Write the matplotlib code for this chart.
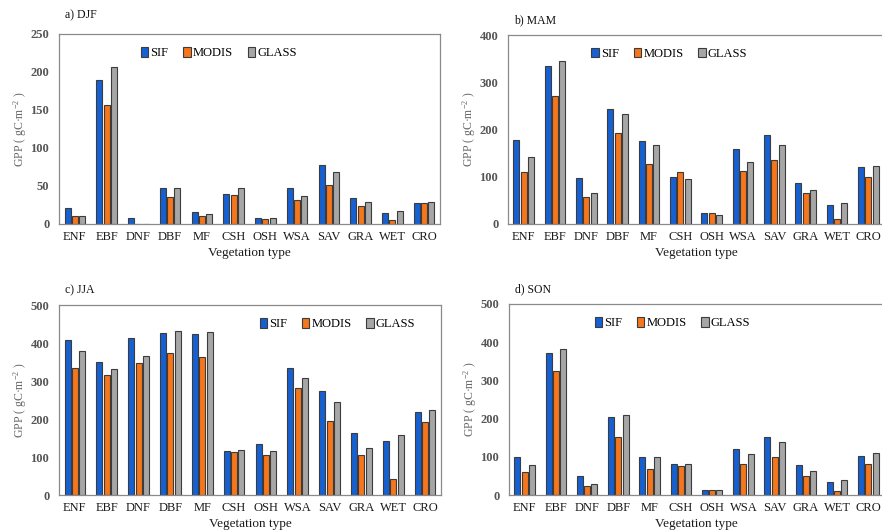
import numpy as np
import matplotlib
matplotlib.use("Agg")
import matplotlib.pyplot as plt

plt.rcParams['font.family'] = ['Liberation Serif', 'DejaVu Serif']
plt.rcParams['mathtext.fontset'] = 'custom'
plt.rcParams['mathtext.rm'] = 'Liberation Serif'
plt.rcParams['mathtext.it'] = 'Liberation Serif:italic'

veg_types = ["ENF", "EBF", "DNF", "DBF", "MF", "CSH", "OSH", "WSA", "SAV", "GRA", "WET", "CRO"]
series_names = ["SIF", "MODIS", "GLASS"]

# DJF
djf_sif = [21, 189, 7.5, 48, 16, 39.5, 7.5, 47, 78, 34.5, 14, 27.5]
djf_modis = [10.5, 157, 0, 35, 10.5, 38.5, 6, 31, 51, 24, 5, 27.5]
djf_glass = [11, 207, 0, 47, 13.5, 47, 7.5, 37.5, 68.5, 29, 17, 29]

# MAM
mam_sif = [178, 334, 97, 244, 175, 99, 22.5, 159, 189, 86, 40, 121]
mam_modis = [111, 271, 57, 192, 128, 111, 22.5, 113, 134.5, 65, 10.5, 99]
mam_glass = [141.5, 344, 66, 232, 168, 96, 20, 131, 168, 71, 44, 123]

# JJA
jja_sif = [409, 349.5, 412, 426, 423, 116, 133, 334.5, 274.5, 162, 142, 219]
jja_modis = [334.5, 315, 347, 375, 363.5, 113.5, 104, 282, 195, 104, 41, 191]
jja_glass = [380, 332, 366, 431, 428.5, 119, 116, 309, 245.5, 123, 157, 224.5]

# SON
son_sif = [99, 373, 49, 204, 99, 82, 13, 121, 152, 78, 34, 102]
son_modis = [61, 325, 23, 152, 68, 77, 13, 82, 99, 49, 10, 80]
son_glass = [78, 381, 28, 210, 99, 80, 13, 107, 139, 64, 38, 110]

titles = ["a) DJF", "b) MAM", "c) JJA", "d) SON"]
ymax = [250, 400, 500, 500]
ystep = [50, 100, 100, 100]

colors = ["#1660d2", "#f5761c", "#a6a6a6"]
edge = "#3c3c3c"

panels = [
    (djf_sif, djf_modis, djf_glass),
    (mam_sif, mam_modis, mam_glass),
    (jja_sif, jja_modis, jja_glass),
    (son_sif, son_modis, son_glass),
]

W, H = 882, 531
fig = plt.figure(figsize=(W / 100, H / 100), dpi=100)

# axes boxes in pixels: left, top, right, bottom
boxes = [(59, 34, 440, 224), (508, 35, 884, 224), (59, 305, 441, 495), (509, 304, 884, 495)]
legend_x = [0.215, 0.222, 0.525, 0.228]
title_y = [1.10, 1.08, 1.08, 1.075]

x = np.arange(len(veg_types))
bw = 0.19
pitch = 0.23

for i, (vals, box) in enumerate(zip(panels, boxes)):
    l, t, r, b = box
    ax = fig.add_axes([l / W, 1 - b / H, (r - l) / W, (b - t) / H])
    for k in range(3):
        ax.bar(x + (k - 1) * pitch, vals[k], width=bw, color=colors[k],
               edgecolor=edge, linewidth=0.8, label=series_names[k], zorder=2)
    ax.set_xlim(-0.5, len(veg_types) - 0.5)
    ax.set_ylim(0, ymax[i])
    ax.set_yticks(np.arange(0, ymax[i] + 1, ystep[i]))
    ax.set_xticks(x)
    ax.set_xticklabels(veg_types)
    ax.tick_params(axis='both', length=0)
    ax.tick_params(axis='x', labelsize=9, pad=5, labelcolor="#1a1a1a")
    ax.tick_params(axis='y', labelsize=9, pad=7, labelcolor="#555555")
    for lab in ax.get_yticklabels():
        lab.set_fontweight('bold')
    for sp in ax.spines.values():
        sp.set_color("#8a8a8a")
        sp.set_linewidth(0.9)
    ax.set_xlabel("Vegetation type", fontsize=9.5, labelpad=3, color="#1a1a1a")
    ax.set_ylabel("GPP ( gC·m$^{-2}$ )", fontsize=8.5, color="#666666", labelpad=1)
    ax.text(0.015, title_y[i], titles[i], transform=ax.transAxes, fontsize=8.5,
            va='center', ha='left', color="#111111")
    ax.legend(loc='center left', bbox_to_anchor=(legend_x[i], 0.90), ncol=3,
              frameon=False, fontsize=9, handlelength=0.6, handleheight=0.8,
              handletextpad=0.15, columnspacing=1.2, borderpad=0, borderaxespad=0)

fig.savefig("out.png", dpi=100)
